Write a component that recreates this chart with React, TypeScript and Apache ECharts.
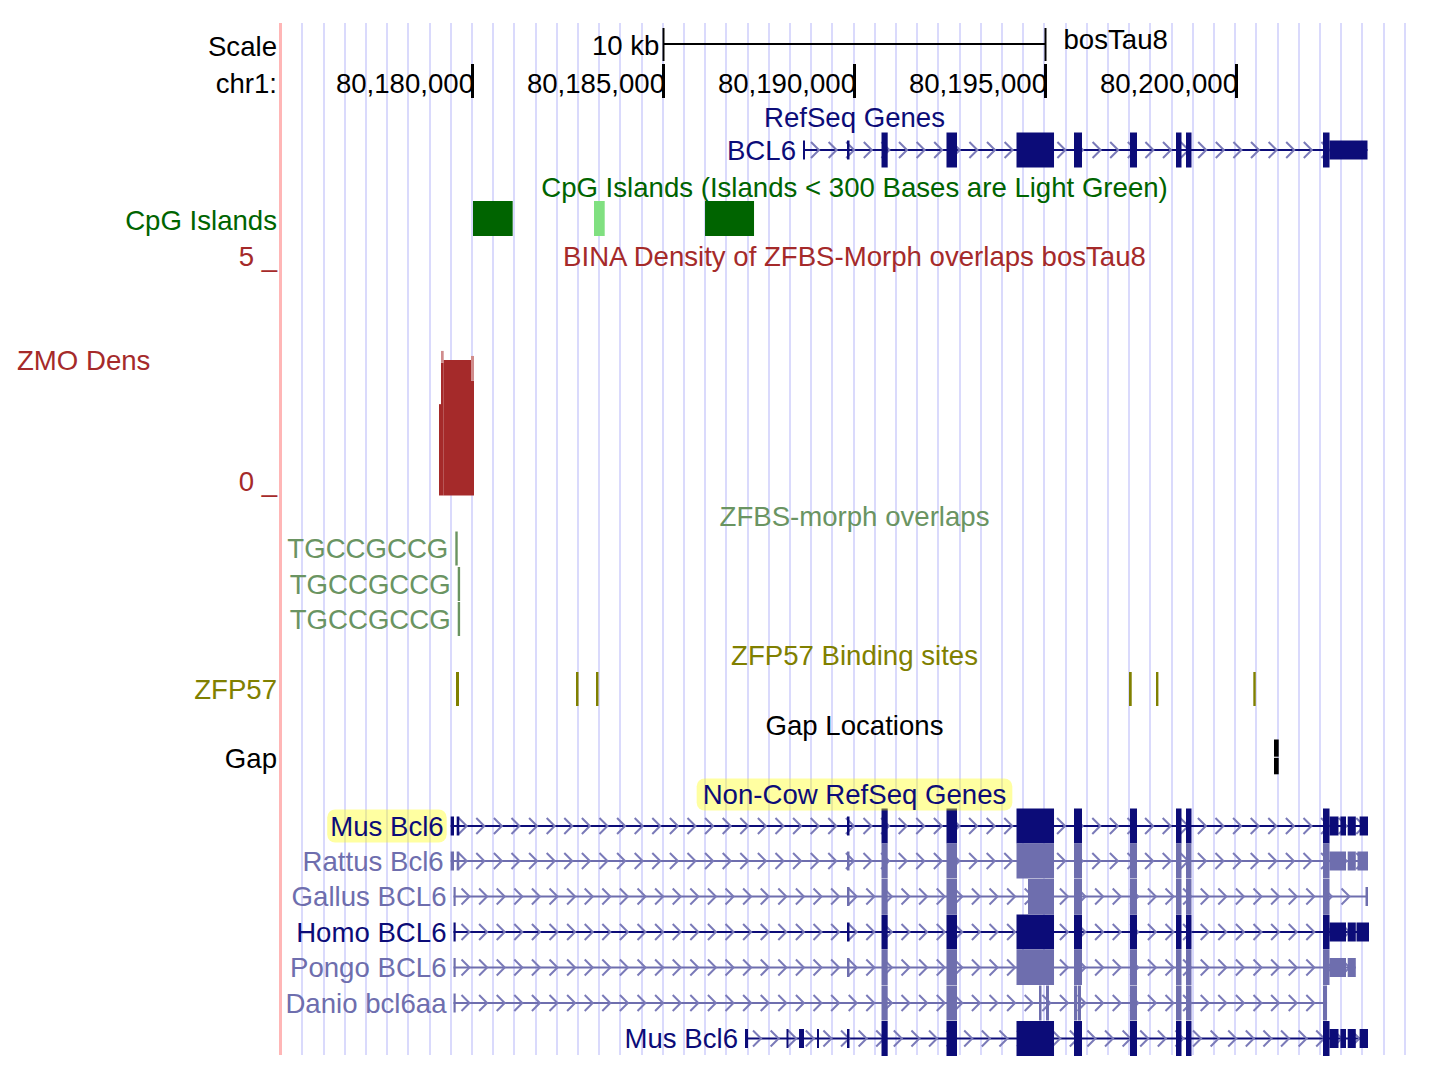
import React, { useEffect, useRef } from "react";
import * as echarts from "echarts";

// ---------- data ----------
const VIEW_START = 80174987;
const VIEW_END = 80205013;

const RULER_TICKS = [80180000, 80185000, 80190000, 80195000, 80200000];
const SCALE_BAR = [80185000, 80195000];
const SCALE_BAR_LABEL = "10 kb";
const ASSEMBLY = "bosTau8";

// CpG islands (bp)
const CPG_START = [80180013, 80183181, 80186087];
const CPG_END = [80181052, 80183461, 80187370];

// ZMO density bins (mean, max)
const DENS_START = [80179123, 80179175, 80179246, 80179961];
const DENS_END = [80179175, 80179246, 80179961, 80180039];
const DENS_MEAN = [1.99, 2.89, 2.95, 2.5];
const DENS_MAX = [1.99, 3.15, 2.95, 3.04];
const DENS_TICKS = [5, 0];

// ZFBS-morph overlaps
const ZFBS_NAME = ["TGCCGCCG", "TGCCGCCG", "TGCCGCCG"];
const ZFBS_START = [80179550, 80179613, 80179613];
const ZFBS_END = [80179558, 80179621, 80179621];

// ZFP57 binding sites
const ZFP57_START = [80179568, 80182709, 80183233, 80197186, 80197893, 80200440];
const ZFP57_END = [80179647, 80182775, 80183298, 80197257, 80197945, 80200503];

// Gaps
const GAP_START = [80200982];
const GAP_END = [80201105];

// gene models: [start, end, thick(1)/utr(0)]
const TX_COW_BCL6 = [
  [80188652, 80188704, 0], [80189804, 80189869, 0], [80190707, 80190869, 1],
  [80192408, 80192683, 1], [80194241, 80195223, 1], [80195746, 80195955, 1],
  [80197212, 80197395, 1], [80198416, 80198560, 1], [80198678, 80198822, 1],
  [80202264, 80202435, 1], [80202435, 80203429, 0],
];
const TX_MUS_BCL6 = [
  [80179429, 80179516, 0], [80179586, 80179654, 0], [80189804, 80189869, 0],
  [80190707, 80190869, 1], [80192408, 80192683, 1], [80194241, 80195223, 1],
  [80195746, 80195955, 1], [80197212, 80197395, 1], [80198416, 80198560, 1],
  [80198678, 80198822, 1], [80202264, 80202435, 1], [80202435, 80202670, 0],
  [80202720, 80202866, 0], [80202911, 80203123, 0], [80203223, 80203442, 0],
];
const TX_RATTUS_BCL6 = [
  [80179429, 80179516, 0], [80179586, 80179654, 0], [80189804, 80189869, 0],
  [80190707, 80190869, 1], [80192408, 80192683, 1], [80194241, 80195223, 1],
  [80195746, 80195955, 1], [80197212, 80197395, 1], [80198416, 80198560, 1],
  [80198678, 80198822, 1], [80202264, 80202435, 1], [80202435, 80202866, 0],
  [80202911, 80203123, 0], [80203168, 80203442, 0],
];
const TX_GALLUS_BCL6 = [
  [80179503, 80179560, 0], [80189804, 80189869, 0], [80190707, 80190869, 1],
  [80192408, 80192683, 1], [80194542, 80195223, 1], [80195746, 80195955, 1],
  [80197212, 80197395, 1], [80198416, 80198560, 1], [80198678, 80198822, 1],
  [80202264, 80202435, 1], [80203377, 80203442, 0],
];
const TX_HOMO_BCL6 = [
  [80179503, 80179560, 0], [80189804, 80189869, 0], [80190707, 80190869, 1],
  [80192408, 80192683, 1], [80194241, 80195223, 1], [80195746, 80195955, 1],
  [80197212, 80197395, 1], [80198416, 80198560, 1], [80198678, 80198822, 1],
  [80202264, 80202435, 1], [80202435, 80202866, 0], [80202911, 80203123, 0],
  [80203141, 80203469, 0],
];
const TX_PONGO_BCL6 = [
  [80179503, 80179560, 0], [80189804, 80189869, 0], [80190707, 80190869, 1],
  [80192408, 80192683, 1], [80194241, 80195223, 1], [80195746, 80195955, 1],
  [80197212, 80197395, 1], [80198416, 80198560, 1], [80198678, 80198822, 1],
  [80202264, 80202435, 1], [80202435, 80202866, 0], [80202911, 80203123, 0],
];
const TX_DANIO_BCL6AA = [
  [80179503, 80179560, 0], [80190707, 80190869, 1], [80192408, 80192683, 1],
  [80194830, 80194895, 1], [80195013, 80195092, 1], [80195746, 80195825, 1],
  [80195843, 80195929, 1], [80197212, 80197395, 1], [80198416, 80198560, 1],
  [80198678, 80198822, 1], [80202264, 80202370, 1],
];
const TX_MUS_BCL6_B = [
  [80187134, 80187212, 0], [80188220, 80188272, 0], [80188547, 80188678, 0],
  [80189018, 80189071, 0], [80189804, 80189869, 0], [80190707, 80190869, 1],
  [80192408, 80192683, 1], [80194241, 80195223, 1], [80195746, 80195955, 1],
  [80197212, 80197395, 1], [80198416, 80198560, 1], [80198678, 80198822, 1],
  [80202264, 80202435, 1], [80202435, 80202670, 0], [80202720, 80202866, 0],
  [80202911, 80203123, 0], [80203223, 80203442, 0],
];

const GENE_NAMES = ["BCL6", "Mus Bcl6", "Rattus Bcl6", "Gallus BCL6", "Homo BCL6", "Pongo BCL6", "Danio bcl6aa", "Mus Bcl6"];
const GENE_MODELS = [TX_COW_BCL6, TX_MUS_BCL6, TX_RATTUS_BCL6, TX_GALLUS_BCL6, TX_HOMO_BCL6, TX_PONGO_BCL6, TX_DANIO_BCL6AA, TX_MUS_BCL6_B];
const GENE_DARK = [true, true, false, false, true, false, false, true];
const GENE_HIGHLIGHT = [false, true, false, false, false, false, false, false];

// ---------- layout / style ----------
const FONT_FAMILY = "'Liberation Sans', Arial, Helvetica, sans-serif";
const FONT = `27.6px ${FONT_FAMILY}`;
const W = 1432;
const H = 1069;
const DATA_LEFT = 281;
const DATA_WIDTH = 1147;
const TITLE_X = 854.5;
const LABEL_RIGHT = 277;
const GENE_ROW_Y = [150, 826, 861, 896.5, 932, 967.5, 1003, 1038.5];
const THICK_H = 35;
const UTR_H = 19;
const GUIDE_SPACING = 21.2;
const GUIDE_COUNT = 53;

const NAVY = "#0c0c78";
const LIGHT_BLUE = "#6e6eae";
const CHEVRON = "#7a7ab8";
const CPG_DARK = "#006400";
const CPG_LIGHT = "#80e080";
const BROWN = "#a52a2a";
const BROWN_LIGHT = "#d08c8c";
const ZFBS_COLOR = "#6a9462";
const OLIVE = "#808000";
const HILITE = "rgba(255,255,0,0.37)";

function txt(text: string, x: number, y: number, align: string, fill: string, extra: any = {}) {
  return {
    type: "text",
    style: {
      text, x, y, font: FONT, fill,
      align, verticalAlign: "middle",
      textAlign: align, textVerticalAlign: "middle",
      ...extra,
    },
  };
}

function gtext(text: string, x: number, y: number, align: string, fill: string, extra: any = {}) {
  return { ...txt(text, x, y, align, fill, extra), z: 50 };
}

function fmtPos(v: number) {
  return String(v).replace(/\B(?=(\d{3})+(?!\d))/g, ",");
}

function buildOption() {
  const xMain = (i: number, show = false) => ({
    type: "value", gridIndex: i, min: VIEW_START, max: VIEW_END, show,
  });

  const rulerSeries = {
    type: "custom", xAxisIndex: 0, yAxisIndex: 0, z: 5,
    data: RULER_TICKS.map((v) => [v, 0]),
    renderItem: (params: any, api: any) => {
      const x = api.coord([api.value(0), 0])[0];
      return {
        type: "group",
        children: [
          txt(fmtPos(api.value(0)), x + 1.5, 83, "right", "#000"),
          { type: "rect", shape: { x: x - 1.5, y: 64, width: 3, height: 34 }, style: { fill: "#000" } },
        ],
      };
    },
  };

  const scaleSeries = {
    type: "custom", xAxisIndex: 0, yAxisIndex: 0, z: 5,
    data: [[SCALE_BAR[0], SCALE_BAR[1]]],
    renderItem: (params: any, api: any) => {
      const x1 = api.coord([api.value(0), 0])[0];
      const x2 = api.coord([api.value(1), 0])[0];
      return {
        type: "group",
        children: [
          { type: "line", shape: { x1, y1: 44, x2, y2: 44 }, style: { stroke: "#000", lineWidth: 2 } },
          { type: "rect", shape: { x: x1 - 1, y: 28, width: 2, height: 33 }, style: { fill: "#000" } },
          { type: "rect", shape: { x: x2 - 1, y: 28, width: 2, height: 33 }, style: { fill: "#000" } },
          txt(SCALE_BAR_LABEL, x1 - 4, 45, "right", "#000"),
          txt(ASSEMBLY, x2 + 18, 39, "left", "#000"),
        ],
      };
    },
  };

  const cpgSeries = {
    type: "custom", xAxisIndex: 0, yAxisIndex: 0, z: 5,
    data: CPG_START.map((s, i) => [s, CPG_END[i]]),
    renderItem: (params: any, api: any) => {
      const s = api.value(0), e = api.value(1);
      const x1 = api.coord([s, 0])[0];
      const x2 = api.coord([e, 0])[0];
      return {
        type: "rect",
        shape: { x: x1, y: 201, width: Math.max(2, x2 - x1), height: 35 },
        style: { fill: e - s < 300 ? CPG_LIGHT : CPG_DARK },
      };
    },
  };

  const densSeries = {
    type: "custom", xAxisIndex: 1, yAxisIndex: 1, z: 5,
    data: DENS_START.map((s, i) => [s, DENS_END[i], DENS_MEAN[i], DENS_MAX[i]]),
    renderItem: (params: any, api: any) => {
      const s = api.value(0), e = api.value(1), mean = api.value(2), mx = api.value(3);
      const p0 = api.coord([s, mean]);
      const p1 = api.coord([e, 0]);
      const children: any[] = [
        { type: "rect", shape: { x: p0[0], y: p0[1], width: p1[0] - p0[0], height: p1[1] - p0[1] }, style: { fill: BROWN } },
      ];
      if (mx > mean) {
        const q = api.coord([s, mx]);
        children.push({ type: "rect", shape: { x: p0[0], y: q[1], width: p1[0] - p0[0], height: p0[1] - q[1] }, style: { fill: BROWN_LIGHT } });
      }
      return { type: "group", children };
    },
  };

  const ZFBS_ROW_Y = [548.5, 584, 619];
  const zfbsSeries = {
    type: "custom", xAxisIndex: 0, yAxisIndex: 0, z: 5,
    data: ZFBS_START.map((s, i) => [s, ZFBS_END[i], i]),
    renderItem: (params: any, api: any) => {
      const i = api.value(2);
      const x1 = api.coord([api.value(0), 0])[0];
      const x2 = api.coord([api.value(1), 0])[0];
      const y = ZFBS_ROW_Y[i];
      return {
        type: "group",
        children: [
          { type: "rect", shape: { x: x1, y: y - 17, width: Math.max(2.4, x2 - x1), height: 34 }, style: { fill: ZFBS_COLOR } },
          txt(ZFBS_NAME[i], x1 - 7, y, "right", ZFBS_COLOR),
        ],
      };
    },
  };

  const zfp57Series = {
    type: "custom", xAxisIndex: 0, yAxisIndex: 0, z: 5,
    data: ZFP57_START.map((s, i) => [s, ZFP57_END[i]]),
    renderItem: (params: any, api: any) => {
      const x1 = api.coord([api.value(0), 0])[0];
      const x2 = api.coord([api.value(1), 0])[0];
      return { type: "rect", shape: { x: x1, y: 672, width: Math.max(2.4, x2 - x1), height: 34 }, style: { fill: OLIVE } };
    },
  };

  const gapSeries = {
    type: "custom", xAxisIndex: 0, yAxisIndex: 0, z: 5,
    data: GAP_START.map((s, i) => [s, GAP_END[i]]),
    renderItem: (params: any, api: any) => {
      const x1 = api.coord([api.value(0), 0])[0];
      const x2 = api.coord([api.value(1), 0])[0];
      const w = Math.max(2, x2 - x1);
      return {
        type: "group",
        children: [
          { type: "rect", shape: { x: x1, y: 739.5, width: w, height: 17.2 }, style: { fill: "#000" } },
          { type: "rect", shape: { x: x1, y: 757.8, width: w, height: 16.5 }, style: { fill: "#000" } },
        ],
      };
    },
  };

  const geneSeries = {
    type: "custom", xAxisIndex: 0, yAxisIndex: 0, z: 6,
    data: GENE_MODELS.map((b, i) => [b[0][0], b[b.length - 1][1], i]),
    renderItem: (params: any, api: any) => {
      const i = api.value(2);
      const blocks = GENE_MODELS[i];
      const y = GENE_ROW_Y[i];
      const color = GENE_DARK[i] ? NAVY : LIGHT_BLUE;
      const xs = api.coord([api.value(0), 0])[0];
      const xe = api.coord([api.value(1), 0])[0];
      const children: any[] = [];
      children.push({ type: "line", shape: { x1: xs, y1: y, x2: xe, y2: y }, style: { stroke: color, lineWidth: 2 } });
      for (let p = xs + 12; p < xe - 5; p += 17.6) {
        children.push({
          type: "polyline",
          shape: { points: [[p - 4, y - 8], [p + 4, y], [p - 4, y + 8]] },
          style: { stroke: CHEVRON, lineWidth: 2, fill: "none" },
        });
      }
      blocks.forEach((b) => {
        const x1 = api.coord([b[0], 0])[0];
        const x2 = api.coord([b[1], 0])[0];
        const h = b[2] ? THICK_H : UTR_H;
        children.push({
          type: "rect",
          shape: { x: x1, y: y - h / 2, width: Math.max(2, x2 - x1), height: h },
          style: { fill: color },
        });
      });
      const hl = GENE_HIGHLIGHT[i];
      children.push(
        txt(GENE_NAMES[i], xs - 7 + (hl ? 3 : 0), y, "right", color,
          hl ? { backgroundColor: HILITE, padding: [3, 3, 2, 3], borderRadius: 8 } : {})
      );
      return { type: "group", children };
    },
  };

  const graphics: any[] = [
    { type: "line", shape: { x1: 280.5, y1: 23, x2: 280.5, y2: 1055 }, style: { stroke: "#ffb6b6", lineWidth: 3 }, z: 40 },
    gtext("Scale", LABEL_RIGHT, 46, "right", "#000"),
    gtext("chr1:", LABEL_RIGHT, 83, "right", "#000"),
    gtext("RefSeq Genes", TITLE_X, 117, "center", NAVY),
    gtext("CpG Islands (Islands < 300 Bases are Light Green)", TITLE_X, 187, "center", CPG_DARK),
    gtext("CpG Islands", LABEL_RIGHT, 220, "right", CPG_DARK),
    gtext("BINA Density of ZFBS-Morph overlaps bosTau8", TITLE_X, 256, "center", BROWN),
    gtext(`${DENS_TICKS[0]} _`, LABEL_RIGHT, 256, "right", BROWN),
    gtext("ZMO Dens", 17, 360, "left", BROWN),
    gtext(`${DENS_TICKS[1]} _`, LABEL_RIGHT, 481, "right", BROWN),
    gtext("ZFBS-morph overlaps", TITLE_X, 516, "center", ZFBS_COLOR),
    gtext("ZFP57 Binding sites", TITLE_X, 655, "center", OLIVE),
    gtext("ZFP57", LABEL_RIGHT, 689, "right", OLIVE),
    gtext("Gap Locations", TITLE_X, 725, "center", "#000"),
    gtext("Gap", LABEL_RIGHT, 758, "right", "#000"),
    gtext("Non-Cow RefSeq Genes", TITLE_X, 794.5, "center", NAVY,
      { backgroundColor: HILITE, padding: [2, 6, 2, 6], borderRadius: 8 }),
  ];

  return {
    animation: false,
    backgroundColor: "#fff",
    grid: [
      { left: DATA_LEFT, top: 0, width: DATA_WIDTH, height: H },
      { left: DATA_LEFT, top: 266, width: DATA_WIDTH, height: 229.5 },
      { left: DATA_LEFT, top: 23, width: GUIDE_COUNT * GUIDE_SPACING, height: 1032 },
    ],
    xAxis: [
      xMain(0),
      xMain(1),
      {
        type: "value", gridIndex: 2, min: 0, max: GUIDE_COUNT, interval: 1,
        axisLine: { show: false }, axisTick: { show: false }, axisLabel: { show: false },
        splitLine: { show: true, lineStyle: { color: "#dadafc", width: 2 } },
      },
    ],
    yAxis: [
      { type: "value", gridIndex: 0, min: 0, max: H, inverse: true, show: false },
      { type: "value", gridIndex: 1, min: 0, max: 5, show: false },
      { type: "value", gridIndex: 2, min: 0, max: 1, show: false, splitLine: { show: false } },
    ],
    series: [
      { type: "scatter", xAxisIndex: 2, yAxisIndex: 2, data: [], silent: true },
      rulerSeries, scaleSeries, cpgSeries, densSeries, zfbsSeries, zfp57Series, gapSeries, geneSeries,
    ],
    graphic: graphics,
  };
}

export default function App() {
  const ref = useRef<HTMLDivElement>(null);
  useEffect(() => {
    document.body.style.margin = "0";
    const chart = echarts.init(ref.current as HTMLDivElement, null, { renderer: "svg" });
    chart.setOption(buildOption() as any);
    return () => chart.dispose();
  }, []);
  return <div ref={ref} style={{ width: W, height: H }} />;
}
